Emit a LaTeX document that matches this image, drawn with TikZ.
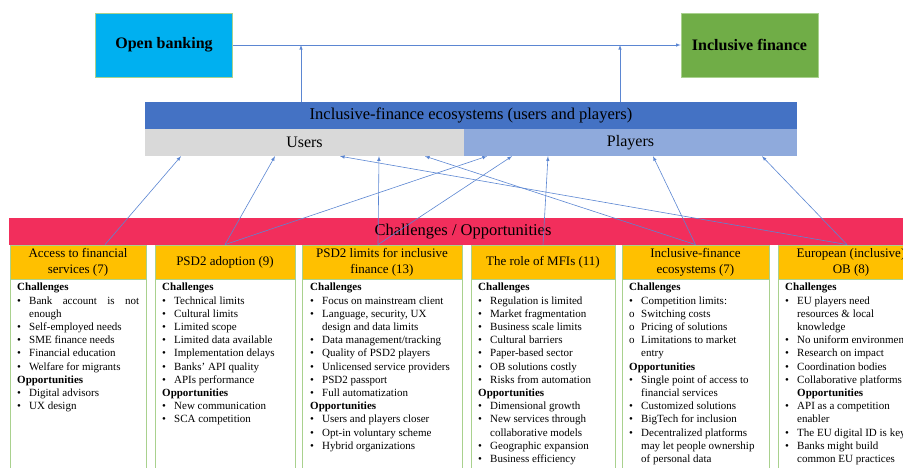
\documentclass[tikz,border=0pt]{standalone}
\usepackage{fontspec}
\setmainfont{Liberation Serif}
\usetikzlibrary{positioning}

\definecolor{obcyan}{RGB}{0,176,240}
\definecolor{ifgreen}{RGB}{112,173,71}
\definecolor{ecoblue}{RGB}{68,114,196}
\definecolor{usergray}{RGB}{217,217,217}
\definecolor{playblue}{RGB}{143,170,220}
\definecolor{chpink}{RGB}{242,46,92}
\definecolor{hdyellow}{RGB}{255,192,0}
\definecolor{rimgreen}{RGB}{169,209,142}
\definecolor{linkblue}{RGB}{91,134,210}

\newcommand{\itm}{\makebox[12pt][l]{\textbullet}}
\newcommand{\subitm}{\makebox[12pt][l]{o}}
\newcommand{\cnt}{\hspace*{12pt}}

\tikzset{
  topbox/.style={draw=rimgreen, line width=0.8pt, minimum width=137pt, minimum height=64pt, font=\fontsize{16}{19}\selectfont\bfseries},
  bar/.style={minimum height=27pt, inner sep=0pt, font=\fontsize{16}{19}\selectfont},
  head/.style={fill=hdyellow, draw=rimgreen, line width=0.8pt, minimum height=34pt, align=center, inner sep=0pt, font=\fontsize{13}{16}\selectfont},
  bodybox/.style={draw=rimgreen, line width=0.8pt, minimum height=200pt, anchor=north west},
  bodytext/.style={align=left, inner sep=0pt, font=\fontsize{11}{13.2}\selectfont},
  link/.style={-latex, draw=linkblue, line width=0.6pt},
}

\begin{document}
\begin{tikzpicture}[x=1pt,y=-1pt]
    \useasboundingbox (0,0) rectangle (903,467);

    % top row
    \node[topbox, fill=obcyan] (ob) at (164,45) {Open banking};
    \node[topbox, fill=ifgreen] (incfin) at (749.5,45) {Inclusive finance};
    \draw[link] (ob) -- (incfin);

    % ecosystem bars
    \node[bar, fill=ecoblue, minimum width=652pt, font=\fontsize{16.5}{19}\selectfont] (eco) at (471,115.5) {Inclusive-finance ecosystems (users and players)};
    \node[bar, fill=usergray, minimum width=319pt] (users) at (304.5,142.5) {Users};
    \node[bar, fill=playblue, minimum width=333pt] (players) at (630.5,142.5) {Players};
    \draw[link] (301,0 |- eco.north) -- (301,0 |- ob.east);
    \draw[link] (620,0 |- eco.north) -- (620,0 |- ob.east);

    \node[bar, fill=chpink, minimum width=908pt, font=\fontsize{16.5}{19}\selectfont] (chall) at (463,231.5) {Challenges / Opportunities};

    % columns
    \node[bodybox, minimum width=136pt] (b1) at (10,279) {};
    \node[bodybox, minimum width=140pt] (b2) at (155,279) {};
    \node[bodybox, minimum width=160pt] (b3) at (302,279) {};
    \node[bodybox, minimum width=144pt] (b4) at (471,279) {};
    \node[bodybox, minimum width=147pt] (b5) at (622,279) {};
    \node[bodybox, minimum width=146pt] (b6) at (778,279) {};

    \node[head, minimum width=136pt] (h1) at (78,262) {Access to financial\\services (7)};
    \node[head, minimum width=140pt] (h2) at (225,262) {PSD2 adoption (9)};
    \node[head, minimum width=160pt] (h3) at (382,262) {PSD2 limits for inclusive\\finance (13)};
    \node[head, minimum width=144pt] (h4) at (543,262) {The role of MFIs (11)};
    \node[head, minimum width=147pt] (h5) at (695.5,262) {Inclusive-finance\\ecosystems (7)};
    \node[head, minimum width=146pt] (h6) at (851,262) {European (inclusive)\\OB (8)};

    \node[bodytext, below right=4pt and 7pt of b1.north west] (t1) {\textbf{Challenges}\\
      \itm\makebox[110pt][s]{Bank account is not}\\ \cnt enough\\
      \itm Self-employed needs\\ \itm SME finance needs\\
      \itm Financial education\\ \itm Welfare for migrants\\
      \textbf{Opportunities}\\ \itm Digital advisors\\ \itm UX design};
    \node[bodytext, below right=4pt and 7pt of b2.north west] (t2) {\textbf{Challenges}\\
      \itm Technical limits\\ \itm Cultural limits\\ \itm Limited scope\\
      \itm Limited data available\\ \itm Implementation delays\\
      \itm Banks’ API quality\\ \itm APIs performance\\
      \textbf{Opportunities}\\ \itm New communication\\ \itm SCA competition};
    \node[bodytext, below right=4pt and 8pt of b3.north west] (t3) {\textbf{Challenges}\\
      \itm Focus on mainstream client\\ \itm Language, security, UX\\ \cnt design and data limits\\
      \itm Data management/tracking\\ \itm Quality of PSD2 players\\
      \itm Unlicensed service providers\\ \itm PSD2 passport\\ \itm Full automatization\\
      \textbf{Opportunities}\\ \itm Users and players closer\\
      \itm Opt-in voluntary scheme\\ \itm Hybrid organizations};
    \node[bodytext, below right=4pt and 7pt of b4.north west] (t4) {\textbf{Challenges}\\
      \itm Regulation is limited\\ \itm Market fragmentation\\ \itm Business scale limits\\
      \itm Cultural barriers\\ \itm Paper-based sector\\ \itm OB solutions costly\\
      \itm Risks from automation\\
      \textbf{Opportunities}\\ \itm Dimensional growth\\ \itm New services through\\ \cnt collaborative models\\
      \itm Geographic expansion\\ \itm Business efficiency};
    \node[bodytext, below right=4pt and 7pt of b5.north west] (t5) {\textbf{Challenges}\\
      \itm Competition limits:\\ \subitm Switching costs\\ \subitm Pricing of solutions\\
      \subitm Limitations to market\\ \cnt entry\\
      \textbf{Opportunities}\\ \itm Single point of access to\\ \cnt financial services\\
      \itm Customized solutions\\ \itm BigTech for inclusion\\
      \itm Decentralized platforms\\ \cnt may let people ownership\\ \cnt of personal data};
    \node[bodytext, below right=4pt and 7pt of b6.north west] (t6) {\textbf{Challenges}\\
      \itm EU players need\\ \cnt resources \& local\\ \cnt knowledge\\
      \itm No uniform environment\\ \itm Research on impact\\
      \itm Coordination bodies\\ \itm Collaborative platforms\\
      \cnt\textbf{Opportunities}\\ \itm API as a competition\\ \cnt enabler\\
      \itm The EU digital ID is key\\ \itm Banks might build\\ \cnt common EU practices};

    % links to users and players
    \draw[link] ([xshift=27pt]h1.north) -- (181,0 |- users.south);
    \draw[link] (h2.north) -- (275,0 |- users.south);
    \draw[link] (h2.north) -- (487,0 |- players.south);
    \draw[link] ([xshift=-4pt]h3.north) -- (379,0 |- users.south);
    \draw[link] ([xshift=-4pt]h3.north) -- (512,0 |- players.south);
    \draw[link] (h4.north) -- (548,0 |- players.south);
    \draw[link] (h5.north) -- (425,0 |- users.south);
    \draw[link] (h5.north) -- (653,0 |- players.south);
    \draw[link] ([xshift=-4pt]h6.north) -- (340,0 |- users.south);
    \draw[link] ([xshift=-4pt]h6.north) -- (762,0 |- players.south);
\end{tikzpicture}
\end{document}
